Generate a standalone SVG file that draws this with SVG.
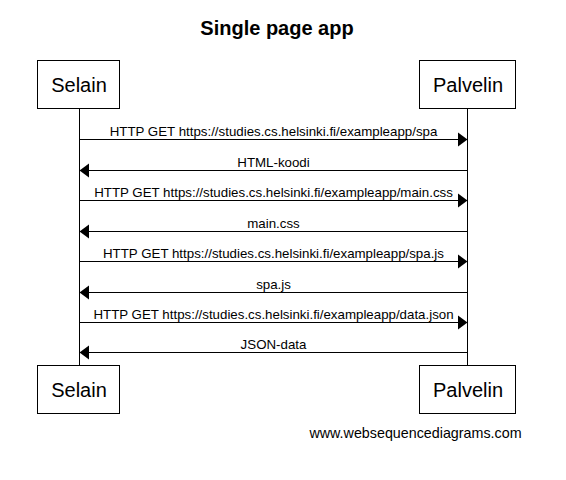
<svg xmlns="http://www.w3.org/2000/svg" width="566" height="480" viewBox="0 0 566 480">
<style>
.box{fill:#fff;stroke:#000;stroke-width:1}
.life{stroke:#000;stroke-width:1}
.msg{stroke:#000;stroke-width:1;fill:none}
.head{fill:#000}
.lbl{font-family:"Liberation Sans",Arial,sans-serif;font-size:13.3px;text-anchor:middle}
.actor{font-family:"Liberation Sans",Arial,sans-serif;font-size:20px;text-anchor:middle}
</style>
<rect width="566" height="480" fill="#fff"/>
<text x="277" y="35" font-family="Liberation Sans,Arial,sans-serif" font-size="20" font-weight="bold" text-anchor="middle">Single page app</text>
<g id="connectors">
<line class="life" x1="79.5" y1="109" x2="79.5" y2="365"/>
<line class="life" x1="467.5" y1="109" x2="467.5" y2="365"/>
<line class="msg" x1="79.5" y1="139.5" x2="458" y2="139.5"/><polygon class="head" points="467.5,139.5 458,132.5 458,146.5"/>
<text class="lbl" x="273.5" y="135.5">HTTP GET https://studies.cs.helsinki.fi/exampleapp/spa</text>
<line class="msg" x1="89" y1="170.5" x2="467.5" y2="170.5"/><polygon class="head" points="79.5,170.5 89,163.5 89,177.5"/>
<text class="lbl" x="273.5" y="166.5">HTML-koodi</text>
<line class="msg" x1="79.5" y1="200.5" x2="458" y2="200.5"/><polygon class="head" points="467.5,200.5 458,193.5 458,207.5"/>
<text class="lbl" x="273.5" y="196.5">HTTP GET https://studies.cs.helsinki.fi/exampleapp/main.css</text>
<line class="msg" x1="89" y1="231.5" x2="467.5" y2="231.5"/><polygon class="head" points="79.5,231.5 89,224.5 89,238.5"/>
<text class="lbl" x="273.5" y="227.5">main.css</text>
<line class="msg" x1="79.5" y1="261.5" x2="458" y2="261.5"/><polygon class="head" points="467.5,261.5 458,254.5 458,268.5"/>
<text class="lbl" x="273.5" y="257.5">HTTP GET https://studies.cs.helsinki.fi/exampleapp/spa.js</text>
<line class="msg" x1="89" y1="292.5" x2="467.5" y2="292.5"/><polygon class="head" points="79.5,292.5 89,285.5 89,299.5"/>
<text class="lbl" x="273.5" y="288.5">spa.js</text>
<line class="msg" x1="79.5" y1="322.5" x2="458" y2="322.5"/><polygon class="head" points="467.5,322.5 458,315.5 458,329.5"/>
<text class="lbl" x="273.5" y="318.5">HTTP GET https://studies.cs.helsinki.fi/exampleapp/data.json</text>
<line class="msg" x1="89" y1="352.5" x2="467.5" y2="352.5"/><polygon class="head" points="79.5,352.5 89,345.5 89,359.5"/>
<text class="lbl" x="273.5" y="348.5">JSON-data</text>
</g>
<g id="selain-top"><rect class="box" x="37.5" y="60.5" width="82" height="48"/><text class="actor" x="79" y="92">Selain</text></g>
<g id="palvelin-top"><rect class="box" x="419.5" y="60.5" width="96" height="48"/><text class="actor" x="468" y="92">Palvelin</text></g>
<g id="selain-bottom"><rect class="box" x="37.5" y="365.5" width="82" height="48"/><text class="actor" x="79" y="397">Selain</text></g>
<g id="palvelin-bottom"><rect class="box" x="419.5" y="365.5" width="96" height="48"/><text class="actor" x="468" y="397">Palvelin</text></g>
<text x="415.5" y="438" font-family="Liberation Sans,Arial,sans-serif" font-size="14.3" text-anchor="middle">www.websequencediagrams.com</text>
</svg>
